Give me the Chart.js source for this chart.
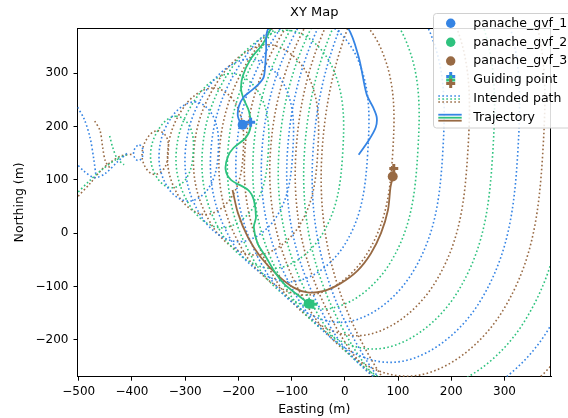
<!DOCTYPE html>
<html>
<head>
<meta charset="utf-8">
<script src="https://cdn.jsdelivr.net/npm/chart.js@4.4.1/dist/chart.umd.min.js"></script>
<style>
  html, body { margin: 0; padding: 0; background: #fff; }
</style>
</head>
<body>
<canvas id="xymap" width="568" height="418"></canvas>
<script>
// ---- data ----
const seriesNames = ['panache_gvf_1', 'panache_gvf_2', 'panache_gvf_3'];
const xTicks = [-500, -400, -300, -200, -100, 0, 100, 200, 300];
const yTicks = [-200, -100, 0, 100, 200, 300];

// intended paths: loops inside the plume cone, 8 points each
// (top, upper right, right, lower right, bottom, lower left, left, upper left)
const gvf1Loops = [
  [[-386,165],[-381,161],[-379,150],[-382,140],[-388,136],[-394,140],[-397,150],[-393,161]],
  [[-282,246],[-247,218],[-238,150],[-255,86],[-294,60],[-333,86],[-349,150],[-325,218]],
  [[-178,326],[-112,274],[-98,150],[-127,33],[-199,-16],[-271,33],[-300,150],[-256,274]],
  [[-74,406],[22,331],[43,150],[0,-21],[-105,-91],[-209,-21],[-252,150],[-187,331]],
  [[30,487],[155,388],[184,150],[127,-74],[-10,-167],[-147,-74],[-204,150],[-118,388]],
  [[135,567],[289,445],[325,150],[254,-128],[85,-242],[-85,-128],[-156,150],[-50,445]],
  [[239,647],[424,502],[466,150],[382,-181],[179,-318],[-24,-181],[-108,150],[18,502]],
  [[343,728],[558,558],[607,150],[509,-234],[274,-394],[38,-234],[-60,150],[87,558]]
];
const gvf2Loops = [
  [[-317,219],[-291,199],[-285,150],[-297,104],[-325,85],[-353,104],[-365,150],[-347,199]],
  [[-213,299],[-157,255],[-144,150],[-170,51],[-231,10],[-291,51],[-317,150],[-278,255]],
  [[-109,380],[-24,312],[-4,150],[-43,-3],[-136,-66],[-230,-3],[-268,150],[-211,312]],
  [[-5,460],[111,369],[137,150],[85,-56],[-42,-142],[-168,-56],[-220,150],[-142,369]],
  [[100,540],[245,426],[278,150],[212,-110],[53,-217],[-106,-110],[-172,150],[-73,426]],
  [[205,621],[379,483],[419,150],[339,-163],[148,-293],[-44,-163],[-124,150],[-4,483]],
  [[308,701],[514,539],[560,150],[467,-217],[242,-368],[18,-217],[-76,150],[65,539]]
];
const gvf3Loops = [
  [[-352,192],[-335,180],[-332,150],[-339,122],[-357,110],[-374,122],[-381,150],[-370,180]],
  [[-247,272],[-202,237],[-191,150],[-212,69],[-262,35],[-312,69],[-333,150],[-302,237]],
  [[-144,353],[-68,293],[-51,150],[-85,15],[-168,-41],[-250,15],[-284,150],[-233,293]],
  [[-39,433],[66,350],[90,150],[42,-38],[-73,-116],[-188,-38],[-236,150],[-164,350]],
  [[66,513],[201,407],[231,150],[170,-92],[22,-192],[-127,-92],[-188,150],[-96,407]],
  [[169,594],[335,464],[372,150],[297,-145],[116,-268],[-65,-145],[-140,150],[-27,464]],
  [[274,674],[468,521],[513,150],[424,-199],[211,-343],[-3,-199],[-92,150],[41,521]],
  [[378,754],[602,577],[653,150],[551,-252],[305,-419],[59,-252],[-43,150],[110,577]]
];

// pieces of intended path behind the source (left of the apex)
const gvf1Tails = [
  [[-506,242],[-490,214],[-479,180],[-472,140],[-468,110]],
  [[-506,132],[-490,116],[-470,104],[-450,112],[-428,133],[-408,151]]
];
const gvf2Tails = [
  [[-442,182],[-436,160],[-428,140],[-415,128]],
  [[-506,72],[-480,98],[-455,120],[-430,138],[-410,147]]
];
const gvf3Tails = [
  [[-470,210],[-460,192],[-455,160],[-450,135],[-440,120]],
  [[-506,64],[-478,94],[-459,117],[-440,133],[-420,145],[-398,148]]
];

// trajectories
const traj1 = [[26,147],[45,174],[58,198],[60,217],[53,236],[41,260],[26,330],[4,387],[-60,440],[-143,384],
  [-148,340],[-152,294],[-162,279],[-177,266],[-190,255],[-199,238],[-201,219],[-195,204]];
const traj2 = [[-130,400],[-139,383],[-154,355],[-177,326],[-192,294],[-195,270],[-190,251],[-180,228],
  [-177,200],[-186,179],[-209,160],[-220,143],[-224,119],[-214,100],[-182,81],[-171,62],[-167,30],
  [-171,11],[-164,-19],[-148,-45],[-130,-75],[-115,-94],[-92,-113],[-70,-130]];
const traj3 = [[-211,81],[-201,38],[-182,-8],[-158,-45],[-126,-79],[-96,-102],[-70,-111],[-39,-108],
  [-8,-94],[24,-70],[49,-38],[68,0],[81,43],[86,87],[90,104]];

const currentPos = [[-192,203],[-68,-132],[90,106]];
const guidePos = [[-177,208],[-60,-133],[92,121]];

// ---- styling ----
const colours = ['#3584e4', '#2ec27e', '#986a44'];
const dots = [1.6, 2.4];
const FONT = '"DejaVu Sans", sans-serif';

function toXY(pts) { return pts.map(p => ({ x: p[0], y: p[1] })); }

function loopSet(pts, colour) {
  // wrap around so every visible piece gets smooth neighbours, hide the two extra pieces
  const seq = toXY([pts[7], ...pts, pts[0], pts[1]]);
  const last = seq.length - 1;
  return {
    data: seq, borderColor: colour, borderWidth: 1.6, borderDash: dots,
    pointRadius: 0, tension: 0.38, fill: false, order: 3,
    segment: { borderColor: c => (c.p0DataIndex === 0 || c.p1DataIndex === last) ? 'rgba(0,0,0,0)' : undefined }
  };
}
function tailSet(pts, colour) {
  return { data: toXY(pts), borderColor: colour, borderWidth: 1.6, borderDash: dots,
    pointRadius: 0, tension: 0.3, fill: false, order: 3 };
}
function trajSet(pts, colour) {
  return { data: toXY(pts), borderColor: colour, borderWidth: 1.8,
    pointRadius: 0, tension: 0.3, fill: false, order: 2 };
}

const datasets = [];
[gvf1Loops, gvf2Loops, gvf3Loops].forEach((loops, i) => loops.forEach(l => datasets.push(loopSet(l, colours[i]))));
[gvf1Tails, gvf2Tails, gvf3Tails].forEach((tails, i) => tails.forEach(t => datasets.push(tailSet(t, colours[i]))));
[traj1, traj2, traj3].forEach((t, i) => datasets.push(trajSet(t, colours[i])));
currentPos.forEach((p, i) => datasets.push({
  data: toXY([p]), showLine: false, pointStyle: 'circle', pointRadius: 5,
  pointBackgroundColor: colours[i], pointBorderWidth: 0, order: 1
}));
guidePos.forEach((p, i) => datasets.push({
  data: toXY([p]), showLine: false, pointStyle: 'cross', pointRadius: 4.5,
  pointBorderColor: colours[i], pointBorderWidth: 3, order: 0
}));

const minus = v => (v < 0 ? '\u2212' + Math.abs(v) : String(v));

const overlay = {
  id: 'overlay',
  afterDatasetsDraw(chart) {
    const { ctx, chartArea: a } = chart;
    ctx.save();
    ctx.strokeStyle = '#000';
    ctx.lineWidth = 1;
    ctx.beginPath();
    ctx.moveTo(a.left, a.top + 0.5);
    ctx.lineTo(a.right, a.top + 0.5);
    ctx.moveTo(a.right - 0.5, a.top);
    ctx.lineTo(a.right - 0.5, a.bottom);
    ctx.stroke();
    ctx.restore();
  },
  afterDraw(chart) {
    const { ctx, chartArea: a } = chart;
    const cx = (a.left + a.right) / 2;
    ctx.save();
    ctx.fillStyle = '#000';
    ctx.textBaseline = 'middle';
    ctx.textAlign = 'center';
    ctx.font = '13px ' + FONT;
    ctx.fillText('XY Map', cx, 13);
    ctx.font = '12.5px ' + FONT;
    ctx.fillText('Easting (m)', cx, 410);
    ctx.save();
    ctx.translate(20, (a.top + a.bottom) / 2);
    ctx.rotate(-Math.PI / 2);
    ctx.fillText('Northing (m)', 0, 0);
    ctx.restore();

    // legend
    const bx = 433.5, by = 13.5, bw = 150, bh = 114.5, r = 3;
    ctx.beginPath();
    ctx.moveTo(bx + r, by);
    ctx.lineTo(bx + bw, by);
    ctx.lineTo(bx + bw, by + bh);
    ctx.lineTo(bx + r, by + bh);
    ctx.arcTo(bx, by + bh, bx, by + bh - r, r);
    ctx.lineTo(bx, by + r);
    ctx.arcTo(bx, by, bx + r, by, r);
    ctx.closePath();
    ctx.fillStyle = 'rgba(255,255,255,0.85)';
    ctx.fill();
    ctx.strokeStyle = '#d0d0d0';
    ctx.lineWidth = 1;
    ctx.stroke();

    const rows = [23.3, 42.3, 61, 80, 99, 117.7];
    const ix = 450.7, tx = 473.3;
    ctx.textAlign = 'left';
    ctx.font = '12.5px ' + FONT;
    for (let i = 0; i < 3; i++) {
      ctx.fillStyle = colours[i];
      ctx.beginPath();
      ctx.arc(ix, rows[i], 4.7, 0, Math.PI * 2);
      ctx.fill();
      ctx.fillStyle = '#000';
      ctx.fillText(seriesNames[i], tx, rows[i]);
    }
    for (let i = 0; i < 3; i++) {
      const y = rows[3] - 3.5 + i * 3.5;
      ctx.fillStyle = colours[i];
      ctx.fillRect(ix - 4.5, y - 1.5, 9, 3);
      ctx.fillRect(ix - 1.5, y - 4.5, 3, 9);
    }
    ctx.lineWidth = 1.6;
    for (let i = 0; i < 3; i++) {
      const y = rows[4] - 3 + i * 3;
      ctx.strokeStyle = colours[i];
      ctx.setLineDash(dots);
      ctx.beginPath();
      ctx.moveTo(438.3, y);
      ctx.lineTo(461.7, y);
      ctx.stroke();
    }
    ctx.setLineDash([]);
    ctx.lineWidth = 1.8;
    for (let i = 0; i < 3; i++) {
      const y = rows[5] - 3 + i * 3;
      ctx.strokeStyle = colours[i];
      ctx.beginPath();
      ctx.moveTo(438.3, y);
      ctx.lineTo(461.7, y);
      ctx.stroke();
    }
    ctx.fillStyle = '#000';
    ctx.fillText('Guiding point', tx, rows[3]);
    ctx.fillText('Intended path', tx, rows[4]);
    ctx.fillText('Trajectory', tx, rows[5]);
    ctx.restore();
  }
};

new Chart(document.getElementById('xymap'), {
  type: 'line',
  data: { datasets: datasets },
  options: {
    responsive: false,
    animation: false,
    devicePixelRatio: 1,
    layout: { padding: { left: 0, right: 17, top: 28, bottom: 0 } },
    elements: { line: { capBezierPoints: false } },
    plugins: { legend: { display: false }, tooltip: { enabled: false } },
    scales: {
      x: {
        type: 'linear', min: -502.4, max: 387.5,
        afterFit: s => { s.height = 41.3; },
        afterBuildTicks: s => { s.ticks = xTicks.map(v => ({ value: v })); },
        grid: { drawOnChartArea: false, drawTicks: true, tickLength: 4, color: '#000', tickWidth: 1 },
        border: { display: true, color: '#000', width: 1 },
        ticks: { color: '#000', font: { family: FONT, size: 12 }, padding: 4, maxRotation: 0, callback: v => minus(v) }
      },
      y: {
        type: 'linear', min: -268.8, max: 384.3,
        afterFit: s => { s.width = 77.5; },
        afterBuildTicks: s => { s.ticks = yTicks.map(v => ({ value: v })); },
        grid: { drawOnChartArea: false, drawTicks: true, tickLength: 4, color: '#000', tickWidth: 1 },
        border: { display: true, color: '#000', width: 1 },
        ticks: { color: '#000', font: { family: FONT, size: 12 }, padding: 5, callback: v => minus(v) }
      }
    }
  },
  plugins: [overlay]
});
</script>
</body>
</html>
